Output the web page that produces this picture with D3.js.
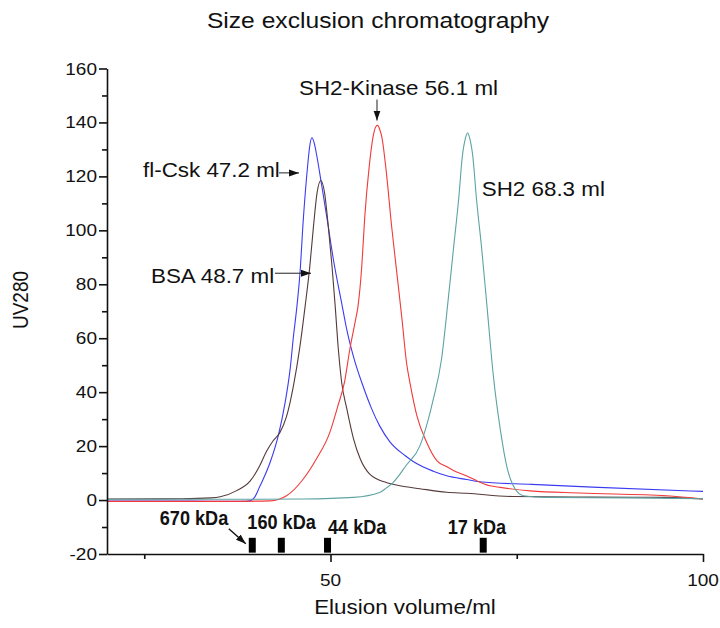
<!DOCTYPE html>
<html>
<head>
<meta charset="utf-8">
<script src="https://cdn.jsdelivr.net/npm/d3@7"></script>
<style>
  body { margin: 0; background: #fff; }
  svg text { font-family: "Liberation Sans", Arial, sans-serif; fill: #111; }
</style>
</head>
<body>
<div id="chart"></div>
<script>
// elution profiles: [volume ml, UV280]
var flCsk = [[20,-0.4],[30,-0.4],[38,-0.5],[39.2,-0.3],[39.8,1],[40.5,5],[41.9,14],[43,24],[43.9,36],[44.6,49],[45.0,60],
  [45.5,72],[45.9,84],[46.35,104],[46.9,123],[47.2,131],[47.5,134.3],[47.8,132.5],[48.2,127],[48.8,117],[49.5,105],[50.4,89],
  [51.5,73],[52.2,63],[53.1,53],[54.4,42],[55.5,34],[56.6,27.5],[58,21.5],[60,16.5],[61.1,14.3],[63.8,10.7],[65.6,9],
  [68.3,7.6],[70,6.8],[77,5.8],[86,4.7],[100,3.2]];
var bsa = [[20,0.4],[30,0.5],[34,0.8],[35.2,1.2],[37.4,3.5],[39.2,7],[40.5,12.7],[41.4,18],[42.3,22],[43.2,25],[44.1,31],
  [45.0,42],[45.9,57],[46.6,72],[47.2,86],[47.7,101],[48.2,114],[48.7,118.5],[49.2,114],[49.7,101.6],[50.2,86.8],[50.6,73],
  [51.05,56],[51.5,43.6],[52.2,33.7],[53.1,22.6],[54,15.2],[55.3,9.5],[57.5,6.5],[59.3,5.3],[62,4.2],[65.6,2.9],
  [68.3,2.5],[74.5,1.3],[85,1.1],[95,1],[100,0.4]];
var sh2Kinase = [[20,-0.5],[35,-0.5],[41.9,-0.3],[44.1,1.6],[46.35,7.8],[48.1,15.2],[49.9,25],[51,35],[51.9,44],[52.6,56],
  [53.3,66],[53.7,72],[54.2,86.8],[54.6,105],[55.2,123.8],[55.7,134.5],[56.1,138.5],[56.3,138.9],[56.6,137.5],[56.9,134.5],
  [57.5,121.4],[58.2,101.6],[58.9,84.3],[59.6,67],[60.2,51],[60.7,43],[61.6,31.2],[62.9,21.4],[64.3,14.5],[65.5,12.5],
  [66.5,11],[68.7,8.4],[69.6,7.2],[71.4,5.3],[72.8,4.7],[76.8,3.4],[83.5,2.6],[95.1,1.6],[100,0.4]];
var sh2 = [[20,0.3],[40,0.3],[46.35,0.4],[53.1,1],[56.6,2.8],[57.5,4.5],[58.4,6.5],[60.2,13],[62,20.1],[62.5,24],
  [63.8,37.4],[64.9,52.2],[65.8,74.4],[66.5,93],[67.2,111.5],[67.7,127.5],[68.1,134],[68.4,136.2],[68.7,134],[69.1,127.5],
  [69.6,111.5],[70.3,93],[71,72],[71.9,45],[72.8,26],[73.7,12],[74.5,5.5],[75.9,1.6],[79,1],[90,0.8],[100,0.5]];

var seriesNames = ["fl-Csk", "BSA", "SH2-Kinase", "SH2"];
var seriesData = [flCsk, bsa, sh2Kinase, sh2];
var seriesColors = ["#3b3bf2", "#553a3a", "#f03a3a", "#5ea3a3"];

// calibration standards
var stdVolumes = [39.5, 43.4, 49.6, 70.5];
var stdLabels = ["670 kDa", "160 kDa", "44 kDa", "17 kDa"];

var yMajor = d3.range(-20, 161, 20);
var yMinor = d3.range(-10, 160, 20);
var xMajor = [50, 100];
var xMinor = [25, 75];

var W = 720, H = 628;
var SX = 1.12; // figure text is slightly stretched horizontally

var svg = d3.select("#chart").append("svg").attr("width", W).attr("height", H);

var x = d3.scaleLinear().domain([20, 100]).range([107, 703]);
var y = d3.scaleLinear().domain([-20, 160]).range([554, 68.5]);

function txt(g, px, py, s, size, anchor, sx, weight) {
    return g.append("text")
        .attr("transform", "translate(" + px + "," + py + ") scale(" + (sx || SX) + ",1)")
        .attr("text-anchor", anchor || "start")
        .style("font-size", size + "px")
        .style("font-weight", weight || "normal")
        .text(s);
}

// arrow head
svg.append("defs").append("marker")
    .attr("id", "arr").attr("viewBox", "0 0 10 10").attr("refX", 10).attr("refY", 5)
    .attr("markerWidth", 10).attr("markerHeight", 10).attr("markerUnits", "userSpaceOnUse")
    .attr("orient", "auto")
  .append("path").attr("d", "M0,1.5 L10,5 L0,8.5 Z").attr("fill", "#111");

// curves
var line = d3.line()
    .x(function(d) { return x(d[0]); })
    .y(function(d) { return y(d[1]); })
    .curve(d3.curveMonotoneX);

svg.append("g").selectAll("path")
    .data(seriesData)
    .enter().append("path")
        .attr("d", line)
        .attr("fill", "none")
        .attr("stroke", function(d, i) { return seriesColors[i]; })
        .attr("stroke-width", 1.1);

// axes
var yAxis = svg.append("g").attr("transform", "translate(" + x.range()[0] + ",0)")
    .call(d3.axisLeft(y).tickValues(yMajor).tickSize(8).tickSizeOuter(0).tickFormat(d3.format("d")));
svg.append("g").attr("transform", "translate(" + x.range()[0] + ",0)")
    .call(d3.axisLeft(y).tickValues(yMinor).tickSize(5).tickSizeOuter(0).tickFormat(""))
    .select(".domain").remove();
var xAxis = svg.append("g").attr("transform", "translate(0," + y(-20) + ")")
    .call(d3.axisBottom(x).tickValues(xMajor).tickSize(8).tickSizeOuter(0).tickFormat(d3.format("d")));
svg.append("g").attr("transform", "translate(0," + y(-20) + ")")
    .call(d3.axisBottom(x).tickValues(xMinor).tickSize(5).tickSizeOuter(0).tickFormat(""))
    .select(".domain").remove();

svg.selectAll(".domain, .tick line").attr("stroke", "#111").attr("stroke-width", 1.6);
yAxis.selectAll(".tick text").remove();
xAxis.selectAll(".tick text").remove();

// tick labels (stretched like the figure)
yMajor.forEach(function(v) { txt(svg, 97, y(v) + 6, v, 17, "end"); });
xMajor.forEach(function(v) { txt(svg, x(v), 586, v, 17, "middle"); });

// titles
txt(svg, 378, 28, "Size exclusion chromatography", 22, "middle");
txt(svg, 405, 614, "Elusion volume/ml", 20, "middle");
svg.append("text")
    .attr("transform", "translate(28,300) scale(" + SX + ",1) rotate(-90)")
    .attr("text-anchor", "middle").style("font-size", "19px").text("UV280");

// calibration standard markers
var stdLayout = [ {dx: -92.5, dy: -13}, {dx: -34, dy: -9}, {dx: 0.5, dy: -4}, {dx: -35.5, dy: -4} ];
var markTop = y(-14), markBottom = y(-19.5);
stdVolumes.forEach(function(v, i) {
    svg.append("rect")
        .attr("x", x(v) - 3.5).attr("y", markTop)
        .attr("width", 7).attr("height", markBottom - markTop)
        .attr("fill", "#000");
    txt(svg, x(v) + stdLayout[i].dx, markTop + stdLayout[i].dy, stdLabels[i], 19.5, "start", 0.93, "bold");
});
svg.append("line")
    .attr("x1", x(stdVolumes[0]) - 23.5).attr("y1", markTop - 9)
    .attr("x2", x(stdVolumes[0]) - 6.5).attr("y2", markTop + 6)
    .attr("stroke", "#111").attr("stroke-width", 1.4).attr("marker-end", "url(#arr)");

// peak annotations: arrow tip in data units, text/arrow tail offsets in px
var annos = [
    {text: "fl-Csk 47.2 ml", vol: 45.77, uv: 121.3, tx: -156, ty: 4, ax: -20, ay: 0},
    {text: "BSA 48.7 ml", vol: 47.38, uv: 84.1, tx: -160, ty: 10, ax: -36, ay: 0},
    {text: "SH2-Kinase 56.1 ml", vol: 56.24, uv: 140.7, tx: -78, ty: -26, ax: 0, ay: -21},
    {text: "SH2 68.3 ml", vol: 70.3, uv: 112.8, tx: 0, ty: 0, ax: null, ay: null}
];
annos.forEach(function(a) {
    var px = x(a.vol), py = y(a.uv);
    txt(svg, px + a.tx, py + a.ty, a.text, 20, "start");
    if (a.ax !== null) {
        svg.append("line")
            .attr("x1", px + a.ax).attr("y1", py + a.ay)
            .attr("x2", px).attr("y2", py)
            .attr("stroke", "#222").attr("stroke-width", 1)
            .attr("marker-end", "url(#arr)");
    }
});
</script>
</body>
</html>
